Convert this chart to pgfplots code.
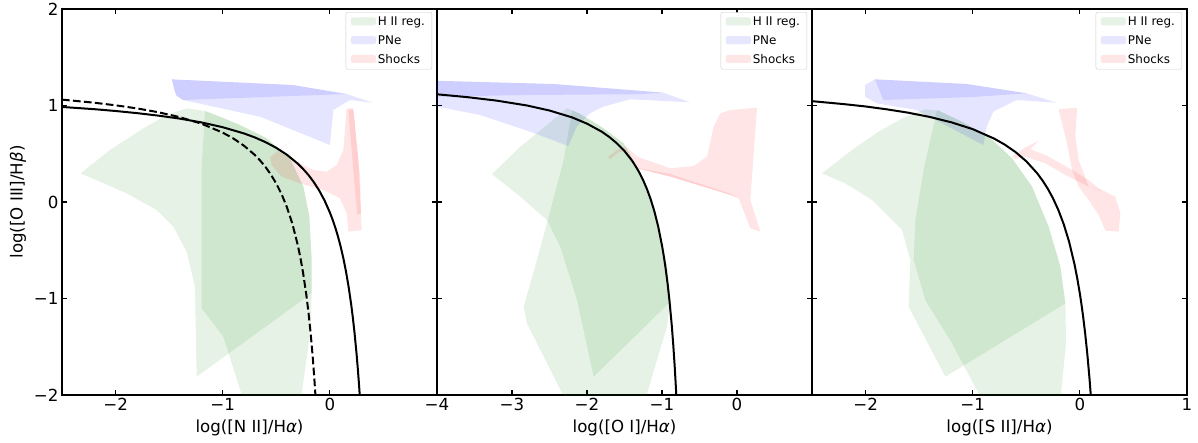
\documentclass[border=0pt]{standalone}
\usepackage{fontspec}
\setmainfont{DejaVu Sans}
\usepackage{pgfplots}
\pgfplotsset{compat=1.18}
\definecolor{mplgreen}{RGB}{0,128,0}
\definecolor{mplblue}{RGB}{0,0,255}
\definecolor{mplred}{RGB}{255,0,0}
\definecolor{legG}{RGB}{230,242,230}
\definecolor{legB}{RGB}{230,230,255}
\definecolor{legR}{RGB}{255,230,230}
\pgfplotsset{
  bpt/.style={
    scale only axis, width=375bp, height=386bp,
    ymin=-2, ymax=2, ytick={-2,-1,0,1,2},
    tick align=inside, xtick pos=both, ytick pos=both,
    xticklabel pos=bottom, yticklabel pos=left,
    major tick length=5bp, minor tick num=0,
    axis line style={line width=1.1bp},
    every tick/.style={black, line width=1.1bp},
    tick label style={font=\fontsize{16.7}{20}\selectfont},
    label style={font=\fontsize{16.7}{20}\selectfont},
    xlabel style={at={(axis description cs:0.5,0)}, anchor=base, yshift=-37bp},
    legend cell align=left,
    legend image code/.code={\path[##1] (0bp,-3.5bp) rectangle (25bp,4.5bp);},
    legend style={at={(axis description cs:0.987,0.992)}, anchor=north east,
      draw=black!20, fill=white, rounded corners=2bp,
      font=\fontsize{12}{14}\selectfont, inner xsep=5bp, inner ysep=2.5bp, row sep=4.5bp,
      /tikz/every even column/.append style={column sep=5bp}},
  },
  gfill/.style={draw=none, fill=mplgreen, fill opacity=0.1, forget plot},
  bfill/.style={draw=none, fill=mplblue, fill opacity=0.1, forget plot},
  rfill/.style={draw=none, fill=mplred, fill opacity=0.1, forget plot},
  dline/.style={black, line width=2bp, forget plot},
}
\begin{document}
\begin{tikzpicture}
% ---------------- Panel 1: [N II] ----------------
\begin{axis}[bpt, name=ax1, at={(0,0)},
  xmin=-2.5, xmax=1.0, xtick={-2,-1,0}, xticklabels={−2,−1,0},
  yticklabels={−2,−1,0,1,2},
  xlabel={log([N II]/H{\itshape α})}]
% H II regions
\addplot[gfill] coordinates {(-2.326,0.297)(-2.052,0.539)(-1.741,0.763)(-1.523,0.902)(-1.336,0.971)(-1.181,0.946)(-1.025,0.884)(-0.839,0.798)(-0.590,0.660)(-0.372,0.453)(-0.247,0.159)(-0.191,-0.152)(-0.170,-0.601)(-0.170,-0.946)(-0.278,-1.033)(-1.243,-1.810)(-1.259,-0.877)(-1.336,-0.515)(-1.461,-0.256)(-1.616,-0.083)(-1.896,0.090)} -- cycle;
\addplot[gfill] coordinates {(-1.165,0.946)(-1.025,0.884)(-0.839,0.798)(-0.590,0.660)(-0.372,0.453)(-0.247,0.159)(-0.191,-0.152)(-0.170,-0.601)(-0.170,-0.946)(-0.179,-1.292)(-0.219,-1.637)(-0.272,-2.05)(-0.807,-2.05)(-0.994,-1.396)(-1.196,-1.102)(-1.196,0.366)} -- cycle;
% PNe
\addplot[bfill] coordinates {(-1.476,1.271)(-0.344,1.212)(0.157,1.119)(0.403,1.029)(0.188,1.057)(0.032,0.953)(0.001,0.591)(-0.652,0.884)(-1.371,1.057)(-1.430,1.100)(-1.445,1.140)} -- cycle;
\addplot[bfill] coordinates {(-1.476,1.271)(-0.344,1.212)(0.157,1.119)(-1.371,1.057)(-1.430,1.100)(-1.445,1.140)} -- cycle;
% Shocks
\addplot[rfill] coordinates {(-0.558,0.463)(-0.356,0.642)(-0.481,0.522)(-0.341,0.435)(-0.154,0.332)(-0.030,0.314)(0.064,0.383)(0.126,0.539)(0.157,0.971)(0.219,0.971)(0.266,0.435)(0.297,-0.290)(0.173,-0.307)(0.157,-0.117)(0.095,0.038)(-0.061,0.124)(-0.278,0.193)(-0.450,0.263)(-0.543,0.383)} -- cycle;
\addplot[rfill] coordinates {(0.173,0.953)(0.219,0.960)(0.282,0.263)(0.291,-0.117)(0.257,-0.135)(0.219,0.332)} -- cycle;
% demarcation lines
\addplot[dline] coordinates {(-2.5,0.985)(-2.2,0.962)(-2.0,0.943)(-1.8,0.921)(-1.6,0.895)(-1.4,0.864)(-1.2,0.825)(-1.0,0.775)(-0.8,0.710)(-0.7,0.669)(-0.6,0.620)(-0.5,0.561)(-0.4,0.489)(-0.3,0.398)(-0.25,0.343)(-0.2,0.280)(-0.15,0.206)(-0.1,0.120)(-0.05,0.017)(0.0,-0.108)(0.025,-0.181)(0.05,-0.262)(0.075,-0.354)(0.1,-0.459)(0.125,-0.578)(0.15,-0.716)(0.175,-0.878)(0.2,-1.069)(0.215,-1.202)(0.23,-1.352)(0.25,-1.583)(0.26,-1.715)(0.27,-1.86)(0.2794,-2.010)};
\addplot[dline, dash pattern=on 7.7bp off 3.3bp] coordinates {(-2.5,1.061)(-2.2,1.029)(-2.0,1.002)(-1.8,0.970)(-1.6,0.930)(-1.4,0.879)(-1.2,0.812)(-1.0,0.719)(-0.9,0.658)(-0.8,0.582)(-0.7,0.487)(-0.65,0.429)(-0.6,0.362)(-0.55,0.283)(-0.5,0.191)(-0.45,0.080)(-0.4,-0.056)(-0.35,-0.225)(-0.3,-0.443)(-0.275,-0.577)(-0.25,-0.733)(-0.22,-0.959)(-0.2,-1.140)(-0.18,-1.352)(-0.16,-1.605)(-0.145,-1.828)(-0.135,-1.997)};
\addlegendimage{fill=legG, draw=none}\addlegendentry{H II reg.}
\addlegendimage{fill=legB, draw=none}\addlegendentry{PNe}
\addlegendimage{fill=legR, draw=none}\addlegendentry{Shocks}
\end{axis}
\node[rotate=90, font=\fontsize{16.7}{20}\selectfont] at (-44bp,193bp) {log([O III]/H{\itshape β})};
% ---------------- Panel 2: [O I] ----------------
\begin{axis}[bpt, name=ax2, at={(375bp,0)},
  xmin=-4, xmax=1, xtick={-4,-3,-2,-1,0}, xticklabels={−4,−3,−2,−1,0},
  yticklabels={,,,,},
  xlabel={log([O I]/H{\itshape α})}]
\addplot[gfill] coordinates {(-3.267,0.290)(-2.889,0.573)(-2.533,0.798)(-2.267,0.971)(-2.089,0.912)(-1.778,0.763)(-1.511,0.608)(-1.289,0.297)(-1.067,-0.187)(-0.933,-0.670)(-0.889,-1.033)(-1.911,-1.810)(-2.133,-1.016)(-2.356,-0.463)(-2.533,-0.187)(-2.889,0.055)} -- cycle;
\addplot[gfill] coordinates {(-2.200,0.953)(-2.089,0.912)(-1.778,0.763)(-1.511,0.608)(-1.289,0.297)(-1.067,-0.187)(-0.933,-0.670)(-0.889,-1.033)(-0.933,-1.292)(-1.067,-1.637)(-1.222,-2.05)(-2.289,-2.05)(-2.800,-1.257)(-2.844,-1.085)(-2.667,-0.601)(-2.511,-0.152)(-2.311,0.435)} -- cycle;
\addplot[bfill] coordinates {(-4.05,1.257)(-2.449,1.223)(-0.983,1.133)(-0.627,1.033)(-1.427,1.064)(-1.783,0.988)(-1.960,0.919)(-2.137,0.780)(-2.249,0.580)(-2.760,0.729)(-3.427,0.902)(-3.996,0.988)(-4.05,0.988)} -- cycle;
\addplot[bfill] coordinates {(-4.05,1.257)(-2.449,1.223)(-0.983,1.133)(-1.300,1.117)(-2.760,1.109)(-4.05,1.091)} -- cycle;
\addplot[rfill] coordinates {(-1.489,0.580)(-1.333,0.470)(-0.889,0.349)(-0.578,0.373)(-0.400,0.470)(-0.311,0.781)(-0.222,0.919)(-0.089,0.953)(0.267,0.978)(0.200,0.263)(0.178,0.021)(0.311,-0.307)(0.178,-0.273)(0.022,0.038)(-0.089,0.073)(-0.444,0.159)(-0.889,0.263)(-1.333,0.349)(-1.444,0.470)} -- cycle;
\addplot[rfill] coordinates {(-1.380,0.360)(-0.889,0.290)(-0.089,0.085)(0.022,0.045)(-0.089,0.073)(-0.889,0.263)(-1.333,0.349)} -- cycle;
\addplot[rfill] coordinates {(-1.720,0.465)(-1.600,0.540)(-1.489,0.570)(-1.470,0.530)(-1.580,0.515)(-1.690,0.445)} -- cycle;
\addplot[dline] coordinates {(-4.0,1.116)(-3.6,1.087)(-3.2,1.050)(-2.8,1.000)(-2.5,0.948)(-2.2,0.877)(-2.0,0.812)(-1.8,0.727)(-1.7,0.672)(-1.6,0.607)(-1.5,0.528)(-1.4,0.429)(-1.35,0.369)(-1.3,0.302)(-1.25,0.224)(-1.2,0.133)(-1.15,0.026)(-1.1,-0.101)(-1.05,-0.257)(-1.0,-0.450)(-0.975,-0.566)(-0.95,-0.698)(-0.925,-0.849)(-0.9,-1.025)(-0.87,-1.277)(-0.85,-1.478)(-0.83,-1.712)(-0.81,-1.988)(-0.809,-2.003)};
\addlegendimage{fill=legG, draw=none}\addlegendentry{H II reg.}
\addlegendimage{fill=legB, draw=none}\addlegendentry{PNe}
\addlegendimage{fill=legR, draw=none}\addlegendentry{Shocks}
\end{axis}
% ---------------- Panel 3: [S II] ----------------
\begin{axis}[bpt, name=ax3, at={(750bp,0)},
  xmin=-2.5, xmax=1, xtick={-2,-1,0,1}, xticklabels={−2,−1,0,1},
  yticklabels={,,,,},
  xlabel={log([S II]/H{\itshape α})}]
\addplot[gfill] coordinates {(-2.407,0.297)(-2.127,0.539)(-1.878,0.729)(-1.629,0.884)(-1.442,0.960)(-1.318,0.946)(-1.100,0.832)(-0.851,0.677)(-0.633,0.453)(-0.446,0.159)(-0.291,-0.256)(-0.182,-0.670)(-0.135,-1.050)(-1.255,-1.810)(-1.598,-1.085)(-1.582,-0.601)(-1.660,-0.290)(-1.940,0.021)(-2.189,0.193)} -- cycle;
\addplot[gfill] coordinates {(-1.333,0.953)(-1.318,0.946)(-1.100,0.832)(-0.851,0.677)(-0.633,0.453)(-0.446,0.159)(-0.291,-0.256)(-0.182,-0.670)(-0.135,-1.050)(-0.129,-1.465)(-0.182,-2.05)(-0.913,-2.05)(-1.193,-1.465)(-1.442,-1.016)(-1.551,-0.601)(-1.535,-0.187)(-1.458,0.332)} -- cycle;
\addplot[bfill] coordinates {(-2.005,1.212)(-1.912,1.271)(-1.056,1.223)(-0.496,1.126)(-0.216,1.029)(-0.589,1.057)(-0.808,0.936)(-0.869,0.780)(-0.901,0.591)(-1.523,0.953)(-1.896,1.023)(-2.005,1.091)} -- cycle;
\addplot[bfill] coordinates {(-1.912,1.271)(-1.056,1.223)(-0.496,1.126)(-1.000,1.088)(-1.835,1.057)(-1.865,1.143)} -- cycle;
\addplot[rfill] coordinates {(-0.198,0.960)(-0.026,0.978)(-0.042,0.677)(-0.011,0.435)(0.082,0.159)(0.207,0.124)(0.331,0.055)(0.378,-0.117)(0.362,-0.307)(0.238,-0.297)(0.176,-0.135)(0.082,0.021)(-0.011,0.159)(-0.073,0.332)(-0.120,0.608)} -- cycle;
\addplot[rfill] coordinates {(-0.633,0.470)(-0.509,0.566)(-0.384,0.636)(-0.462,0.546)(-0.322,0.487)(-0.135,0.373)(0.082,0.228)(0.201,0.117)(0.082,0.159)(-0.135,0.280)(-0.322,0.401)(-0.509,0.470)(-0.602,0.446)} -- cycle;
\addplot[dline] coordinates {(-2.5,1.045)(-2.2,1.014)(-2.0,0.990)(-1.8,0.960)(-1.6,0.925)(-1.4,0.881)(-1.2,0.826)(-1.0,0.755)(-0.8,0.657)(-0.7,0.594)(-0.6,0.517)(-0.5,0.422)(-0.4,0.300)(-0.35,0.225)(-0.3,0.139)(-0.25,0.037)(-0.2,-0.085)(-0.15,-0.232)(-0.1,-0.414)(-0.05,-0.646)(-0.025,-0.787)(0.0,-0.950)(0.015,-1.061)(0.03,-1.183)(0.05,-1.367)(0.07,-1.580)(0.09,-1.830)(0.102,-2.003)};
\addlegendimage{fill=legG, draw=none}\addlegendentry{H II reg.}
\addlegendimage{fill=legB, draw=none}\addlegendentry{PNe}
\addlegendimage{fill=legR, draw=none}\addlegendentry{Shocks}
\end{axis}
\pgfresetboundingbox
\path[use as bounding box] (-62bp,-48bp) rectangle (1136bp,395bp);
\end{tikzpicture}
\end{document}
